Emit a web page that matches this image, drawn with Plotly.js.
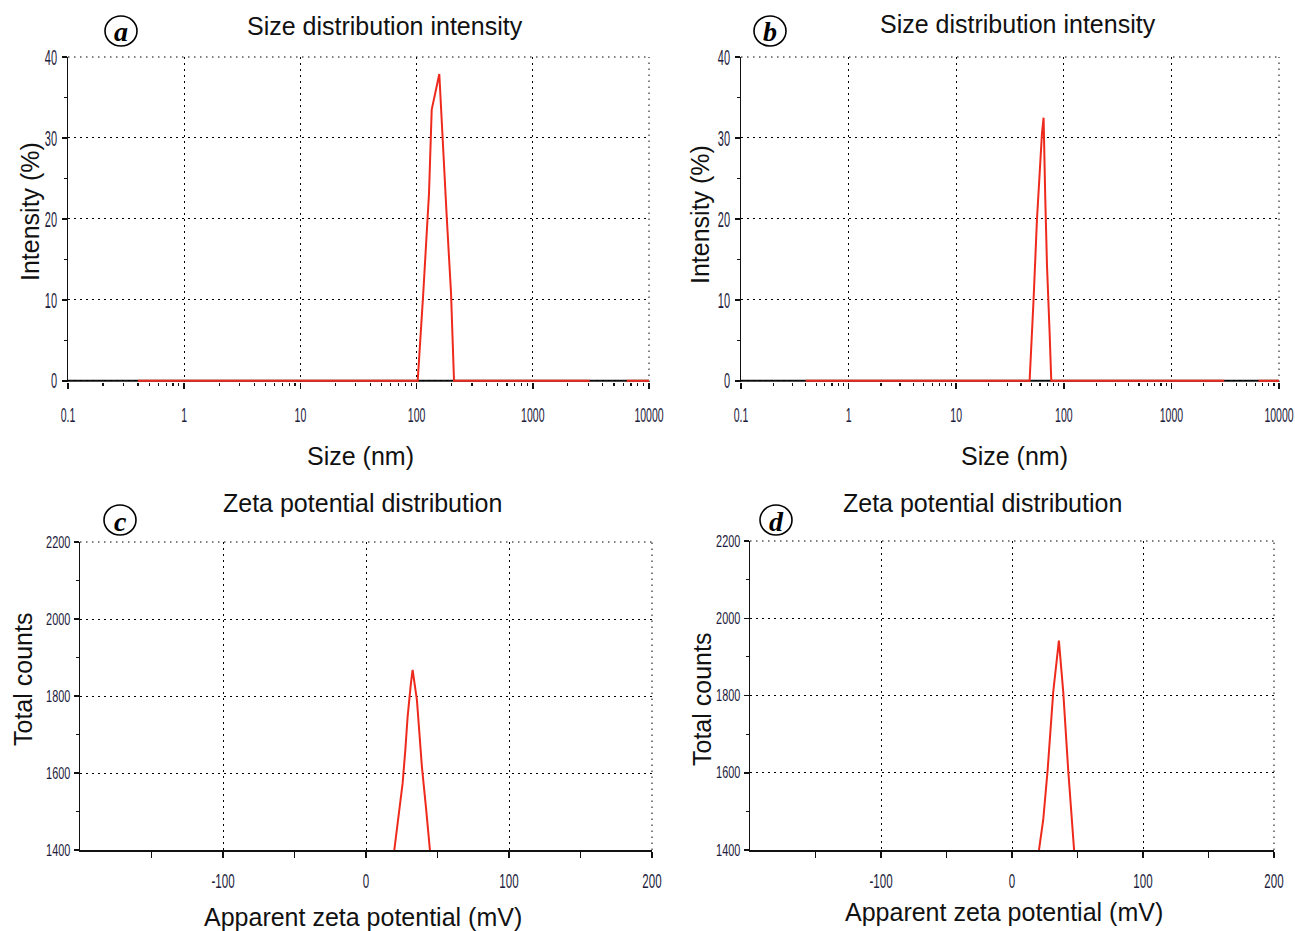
<!DOCTYPE html>
<html>
<head>
<meta charset="utf-8">
<script src="https://cdn.plot.ly/plotly-3.0.1.min.js"></script>
<style>html,body{margin:0;padding:0;background:#fff;}#chart{width:1295px;height:931px;}</style>
</head>
<body>
<div id="chart"></div>
<script>
// ---- Data ----
const sizeTickVals = [0.1, 1, 10, 100, 1000, 10000];
const sizeTickText = ['0.1', '1', '10', '100', '1000', '10000'];

const sizeA = [0.4, 102.2, 114.2, 127.9, 134.9, 156.8, 181.6, 197.7, 209.9, 3091, 4500, 6439, 10000];
const intensityA = [0, 0, 10.9, 23.2, 33.5, 37.9, 20.3, 10.9, 0, 0, null, 0, 0];

const sizeB = [0.4, 48.1, 52.4, 56.3, 62.7, 64.9, 67.3, 69.8, 73.8, 76.5, 3091, 4500, 6439, 10000];
const intensityB = [0, 0, 10.1, 19.9, 30.6, 32.5, 22.4, 14.2, 6.0, 0, 0, null, 0, 0];

const zetaC = [19.8, 22.8, 25.6, 27.5, 29.1, 31.4, 32.6, 35.6, 39.1, 41.9, 44.7];
const countsC = [1400, 1486, 1573, 1660, 1746, 1833, 1868, 1790, 1616, 1512, 1400];

const zetaD = [20.6, 23.8, 27.2, 31.5, 35.8, 39.1, 42.9, 45.5, 47.4];
const countsD = [1400, 1477, 1607, 1810, 1942, 1810, 1607, 1477, 1400];

const zetaTickVals = [-100, 0, 100, 200];
const zetaTickText = ['-100', '0', '100', '200'];
const zetaMinorVals = [-150, -50, 50, 150];

const panelLetters = ['a', 'b', 'c', 'd'];
const sizeTitle = 'Size distribution intensity';
const zetaTitle = 'Zeta potential distribution';

// ---- Layout helpers ----
const W = 1295, H = 931;
const px = v => v / W;
const py = v => 1 - v / H;

// panel boxes in pixels: [left, right, top, bottom]
const boxes = [[68, 649, 57, 382], [741, 1279, 57, 382], [80, 652, 542, 850], [750, 1274, 541, 850]];

const lineColor = '#ee2a1c';
const tickFamily = 'Liberation Sans, Arial, sans-serif';
const tickColor = '#1c1c3c';
const labelFont = {family: 'Liberation Sans, Arial, sans-serif', size: 25, color: '#111'};
const dotted = '1.5px,4.5px';

const logMinor = [];
for (let d = -1; d < 4; d++) for (let m = 2; m <= 9; m++) logMinor.push(m * Math.pow(10, d));

const common = {showgrid: true, gridcolor: '#000', griddash: dotted, gridwidth: 1,
  showline: true, linecolor: '#111', layer: 'below traces', tickcolor: '#111', tickwidth: 1.5,
  zeroline: false, fixedrange: true, tickangle: 0, ticklabeloverflow: 'allow'};

function dom(b, axis) {
  return axis === 'x' ? [px(b[0]), px(b[1])] : [py(b[3]), py(b[2])];
}

function sizeX(b, anchor) {
  return Object.assign({}, common, {type: 'log', domain: dom(b, 'x'), anchor: anchor, range: [-1, 4],
    tickvals: sizeTickVals, ticktext: sizeTickText, showline: false, ticks: 'outside', ticklen: 6,
    minor: {tickvals: logMinor, ticks: 'outside', ticklen: 3, tickcolor: '#111', tickwidth: 1.2, showgrid: false},
    tickfont: {family: tickFamily, size: 21, color: tickColor}, ticklabelstandoff: 8});
}
function sizeY(b, anchor) {
  return Object.assign({}, common, {domain: dom(b, 'y'), anchor: anchor, range: [-0.15, 40], tickvals: [0, 10, 20, 30, 40],
    linewidth: 1.5, ticks: 'outside', ticklen: 5,
    minor: {tickvals: [5, 15, 25, 35], ticks: 'outside', ticklen: 3, tickcolor: '#111', tickwidth: 1.2, showgrid: false},
    tickfont: {family: tickFamily, size: 22, color: tickColor}, ticklabelstandoff: 0});
}
function zetaX(b, anchor) {
  return Object.assign({}, common, {domain: dom(b, 'x'), anchor: anchor, range: [-200, 200],
    tickvals: zetaTickVals, ticktext: zetaTickText, linewidth: 2, ticks: 'outside', ticklen: 6,
    minor: {tickvals: zetaMinorVals, ticks: 'outside', ticklen: 6, tickcolor: '#111', tickwidth: 1.5, showgrid: false},
    tickfont: {family: tickFamily, size: 21, color: tickColor}, ticklabelstandoff: 5});
}
function zetaY(b, anchor) {
  return Object.assign({}, common, {domain: dom(b, 'y'), anchor: anchor, range: [1400, 2200], dtick: 200,
    linewidth: 1.5, ticks: 'outside', ticklen: 5,
    minor: {dtick: 100, ticks: 'outside', ticklen: 3, tickcolor: '#111', tickwidth: 1.2, showgrid: false},
    tickfont: {family: tickFamily, size: 16, color: tickColor}, ticklabelstandoff: 0});
}

const traces = [
  {x: sizeA, y: intensityA, xaxis: 'x', yaxis: 'y'},
  {x: sizeB, y: intensityB, xaxis: 'x2', yaxis: 'y2'},
  {x: zetaC, y: countsC, xaxis: 'x3', yaxis: 'y3'},
  {x: zetaD, y: countsD, xaxis: 'x4', yaxis: 'y4'}
].map(t => Object.assign(t, {type: 'scatter', mode: 'lines', line: {color: lineColor, width: 2},
  connectgaps: false, cliponaxis: false, hoverinfo: 'skip', showlegend: false}));

const layout = {
  width: W, height: H, margin: {l: 0, r: 0, t: 0, b: 0},
  paper_bgcolor: '#fff', plot_bgcolor: '#fff', showlegend: false,
  xaxis: sizeX(boxes[0], 'y'),
  yaxis: sizeY(boxes[0], 'x'),
  xaxis2: sizeX(boxes[1], 'y2'),
  yaxis2: sizeY(boxes[1], 'x2'),
  xaxis3: zetaX(boxes[2], 'y3'),
  yaxis3: zetaY(boxes[2], 'x3'),
  xaxis4: zetaX(boxes[3], 'y4'),
  yaxis4: zetaY(boxes[3], 'x4'),
  annotations: [],
  shapes: []
};

// dotted top and right frame lines (grid at the range ends)
boxes.forEach(b => {
  const ln = {color: '#000', width: 1, dash: dotted};
  layout.shapes.push({type: 'line', xref: 'paper', yref: 'paper', x0: px(b[0]), x1: px(b[1]), y0: py(b[2]), y1: py(b[2]), line: ln, layer: 'below'});
  layout.shapes.push({type: 'line', xref: 'paper', yref: 'paper', x0: px(b[1]), x1: px(b[1]), y0: py(b[3]), y1: py(b[2]), line: ln, layer: 'below'});
});
// black x axis line at the zero level of the size panels (the red data baseline is drawn over it)
[['x', 'y'], ['x2', 'y2']].forEach(([xa, ya]) => {
  layout.shapes.push({type: 'line', xref: xa + ' domain', yref: ya, x0: 0, x1: 1, y0: 0, y1: 0,
    line: {color: '#111', width: 2}, layer: 'below'});
});

function txt(text, x, y, opts) {
  layout.annotations.push(Object.assign({text: text, xref: 'paper', yref: 'paper', x: px(x), y: py(y),
    xanchor: 'center', yanchor: 'middle', showarrow: false, font: labelFont}, opts || {}));
}
// panel titles
txt(sizeTitle, 385, 26);
txt(sizeTitle, 1018, 24);
txt(zetaTitle, 362, 503);
txt(zetaTitle, 982, 503);
// axis titles
txt('Size (nm)', 360, 456);
txt('Size (nm)', 1014, 456);
txt('Apparent zeta potential (mV)', 363, 917);
txt('Apparent zeta potential (mV)', 1004, 912);
txt('Intensity (%)', 30, 212, {textangle: -90});
txt('Intensity (%)', 700, 215, {textangle: -90});
txt('Total counts', 23, 680, {textangle: -90});
txt('Total counts', 702, 700, {textangle: -90});

// circled panel letters
const letterPos = [[121, 31], [770, 31], [120, 520], [776, 520]];
panelLetters.forEach((L, i) => {
  const [cx, cy] = letterPos[i];
  layout.shapes.push({type: 'circle', xref: 'paper', yref: 'paper',
    x0: px(cx - 16), x1: px(cx + 16), y0: py(cy + 15), y1: py(cy - 15),
    line: {color: '#000', width: 1.6}, fillcolor: 'rgba(0,0,0,0)'});
  txt('<b><i>' + L + '</i></b>', cx, cy + 1, {font: {family: 'Liberation Serif, Times New Roman, serif', size: 28, color: '#000'}});
});

// horizontal squeeze of tick labels to imitate the narrow typeface of the original
const squeeze = {xtick: 0.5, x2tick: 0.5, ytick: 0.5, y2tick: 0.5, x3tick: 0.55, x4tick: 0.55, y3tick: 0.68, y4tick: 0.68};

Plotly.newPlot('chart', traces, layout, {staticPlot: true, displayModeBar: false}).then(gd => {
  Object.keys(squeeze).forEach(cls => {
    gd.querySelectorAll('g.' + cls + ' text').forEach(t => {
      const w = t.getComputedTextLength();
      if (w > 0) {
        t.setAttribute('textLength', (w * squeeze[cls]).toFixed(2));
        t.setAttribute('lengthAdjust', 'spacingAndGlyphs');
      }
    });
  });
});
</script>
</body>
</html>
